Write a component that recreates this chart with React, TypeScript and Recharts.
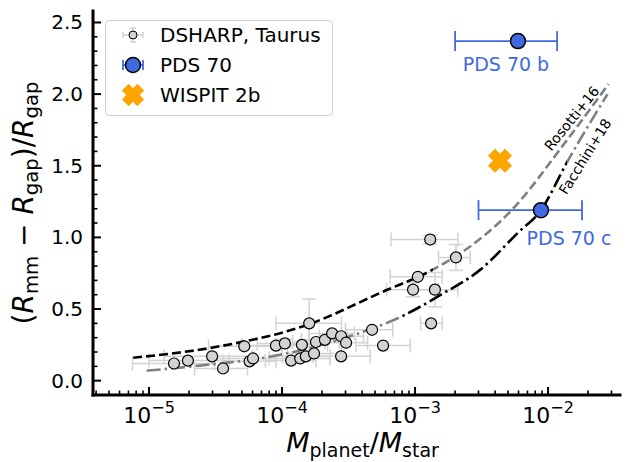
import {
  ComposedChart,
  Scatter,
  Line,
  XAxis,
  YAxis,
  ErrorBar,
  Legend,
  ReferenceDot,
} from 'recharts';

const FONT = '"DejaVu Sans", Verdana, sans-serif';
const GREY = '#808080';
const LIGHT = '#d3d3d3';
const BLUE = '#4169e1';
const ORANGE = '#ffa500';

// axis ranges and tick positions
const X_DOMAIN: [number, number] = [3.79e-6, 3.475e-2];
const Y_DOMAIN: [number, number] = [-0.1, 2.58];
const X_MAJOR = [1e-5, 1e-4, 1e-3, 1e-2];
const X_MINOR = [
  4e-6, 5e-6, 6e-6, 7e-6, 8e-6, 9e-6,
  2e-5, 3e-5, 4e-5, 5e-5, 6e-5, 7e-5, 8e-5, 9e-5,
  2e-4, 3e-4, 4e-4, 5e-4, 6e-4, 7e-4, 8e-4, 9e-4,
  2e-3, 3e-3, 4e-3, 5e-3, 6e-3, 7e-3, 8e-3, 9e-3,
  2e-2, 3e-2,
];
const Y_MAJOR = [0, 0.5, 1, 1.5, 2, 2.5];
const Y_MINOR = [
  0.1, 0.2, 0.3, 0.4, 0.6, 0.7, 0.8, 0.9, 1.1, 1.2, 1.3, 1.4,
  1.6, 1.7, 1.8, 1.9, 2.1, 2.2, 2.3, 2.4,
];

// DSHARP + Taurus gaps
const DSHARP_M = [
  1.54e-5, 1.96e-5, 2.98e-5, 3.6e-5, 5.2e-5, 5.7e-5, 6.05e-5, 9.0e-5, 1.05e-4,
  1.17e-4, 1.37e-4, 1.41e-4, 1.51e-4, 1.6e-4, 1.74e-4, 1.8e-4, 2.1e-4, 2.38e-4,
  2.78e-4, 2.78e-4, 3.03e-4, 4.75e-4, 5.75e-4, 9.66e-4, 1.05e-3, 1.3e-3, 1.32e-3,
  1.41e-3, 2.03e-3,
];
const DSHARP_W = [
  0.12, 0.14, 0.17, 0.085, 0.24, 0.135, 0.155, 0.245, 0.26,
  0.14, 0.155, 0.25, 0.17, 0.4, 0.19, 0.27, 0.285, 0.33,
  0.31, 0.17, 0.265, 0.355, 0.245, 0.635, 0.725, 0.985, 0.4,
  0.635, 0.86,
];
const DSHARP_M_LO = [
  7.5e-6, 1.0e-5, 1.3e-5, 2.2e-5, 2.8e-5, 3.6e-5, 3.0e-5, 5.0e-5, 6.5e-5,
  7.5e-5, 8.0e-5, 9.0e-5, 1.0e-4, 9.0e-5, 1.1e-4, 1.2e-4, 1.4e-4, 1.6e-4,
  1.9e-4, 1.7e-4, 2.1e-4, 3.0e-4, 3.6e-4, 6.1e-4, 6.5e-4, 6.6e-4, 1.1e-3,
  9.5e-4, 1.5e-3,
];
const DSHARP_M_HI = [
  3.1e-5, 4.0e-5, 6.0e-5, 5.5e-5, 1.0e-4, 9.0e-5, 1.2e-4, 1.6e-4, 1.7e-4,
  1.8e-4, 2.3e-4, 2.2e-4, 2.3e-4, 2.8e-4, 2.8e-4, 2.7e-4, 3.2e-4, 3.5e-4,
  4.1e-4, 4.6e-4, 4.4e-4, 6.8e-4, 9.2e-4, 1.5e-3, 1.6e-3, 2.1e-3, 1.6e-3,
  2.1e-3, 2.6e-3,
];
const DSHARP_W_ERR = [
  0, 0, 0, 0, 0, 0, 0, 0, 0.03,
  0, 0, 0, 0, 0.17, 0, 0, 0, 0,
  0.03, 0, 0, 0, 0, 0.05, 0, 0.03, 0,
  0.12, 0.09,
];

// PDS 70 b and c
const PDS_NAMES = ['PDS 70 b', 'PDS 70 c'];
const PDS_M = [5.94e-3, 8.85e-3];
const PDS_M_LO = [2.0e-3, 3.0e-3];
const PDS_M_HI = [1.17e-2, 1.8e-2];
const PDS_W = [2.37, 1.19];

// WISPIT 2b
const WISPIT_M = [4.35e-3];
const WISPIT_W = [1.535];

// Rosotti+16 relation, black over the DSHARP range
const ROSOTTI_M = [7.6e-6, 3.4e-5, 1.55e-4, 5.7e-4, 1.36e-3, 2.2e-3, 5.2e-3, 1.39e-2, 2.85e-2];
const ROSOTTI_W = [0.16, 0.24, 0.39, 0.62, 0.775, 0.89, 1.18, 1.68, 2.07];
const ROSOTTI_BLACK: [number, number] = [7.6e-6, 1.36e-3];

// Facchini+18 relation
const FACCHINI_M = [9.6e-6, 2.4e-5, 9.6e-5, 3.9e-4, 7.8e-4, 1.5e-3, 3.1e-3, 5.9e-3, 8.85e-3, 1.38e-2, 2.8e-2];
const FACCHINI_W = [0.07, 0.105, 0.18, 0.335, 0.445, 0.59, 0.775, 1.03, 1.19, 1.52, 2.0];
const FACCHINI_BLACK: [number, number] = [7.8e-4, 1.38e-2];

const dsharp = DSHARP_M.map((m, i) => ({
  m,
  w: DSHARP_W[i],
  xErr: [m - DSHARP_M_LO[i], DSHARP_M_HI[i] - m],
  yErr: DSHARP_W_ERR[i],
}));

const pds = PDS_M.map((m, i) => ({
  m,
  w: PDS_W[i],
  name: PDS_NAMES[i],
  xErr: [m - PDS_M_LO[i], PDS_M_HI[i] - m],
}));

const wispit = WISPIT_M.map((m, i) => ({ m, w: WISPIT_W[i] }));

const curve = (ms: number[], ws: number[]) => ms.map((m, i) => ({ m, w: ws[i] }));
const rosotti = curve(ROSOTTI_M, ROSOTTI_W);
const facchini = curve(FACCHINI_M, FACCHINI_W);

// where a mass falls along a curve's horizontal extent (log axis), 0..1
const frac = (ms: number[], v: number) => {
  const a = Math.log10(ms[0]);
  const b = Math.log10(ms[ms.length - 1]);
  return Math.min(1, Math.max(0, (Math.log10(v) - a) / (b - a)));
};

// hard colour switch: grey outside the black range, black inside it
function SplitGradient({ id, ms, range }: { id: string; ms: number[]; range: [number, number] }) {
  const f0 = frac(ms, range[0]);
  const f1 = frac(ms, range[1]);
  return (
    <linearGradient id={id} x1="0" y1="0" x2="1" y2="0">
      <stop offset={0} stopColor={GREY} />
      <stop offset={f0} stopColor={GREY} />
      <stop offset={f0} stopColor="#000" />
      <stop offset={f1} stopColor="#000" />
      <stop offset={f1} stopColor={GREY} />
      <stop offset={1} stopColor={GREY} />
    </linearGradient>
  );
}

const LABEL_OFFSET: Record<string, [number, number]> = {
  'PDS 70 b': [-12, 30],
  'PDS 70 c': [28, 35],
};

const isMajor = (list: number[], v: number) =>
  list.some((t) => Math.abs(v - t) <= Math.abs(t) * 1e-6 + 1e-9);

// tick marks point into the frame on all four sides
function BottomTick({ x, y, payload }: any) {
  const major = isMajor(X_MAJOR, payload.value);
  const exp = Math.round(Math.log10(payload.value));
  return (
    <g>
      <line x1={x} x2={x} y1={y} y2={y - (major ? 8 : 4.5)} stroke="#000" strokeWidth={major ? 2 : 1.6} />
      {major && (
        <text x={x} y={y + 28} textAnchor="middle" fontSize={22} fontFamily={FONT} fill="#000">
          10<tspan dy={-10} fontSize={16}>{`\u2212${-exp}`}</tspan>
        </text>
      )}
    </g>
  );
}

function TopTick({ x, y, payload }: any) {
  const major = isMajor(X_MAJOR, payload.value);
  return <line x1={x} x2={x} y1={y} y2={y + (major ? 8 : 4.5)} stroke="#000" strokeWidth={major ? 2 : 1.6} />;
}

function LeftTick({ x, y, payload }: any) {
  const major = isMajor(Y_MAJOR, payload.value);
  return (
    <g>
      <line x1={x} x2={x + (major ? 8 : 4.5)} y1={y} y2={y} stroke="#000" strokeWidth={major ? 2 : 1.6} />
      {major && (
        <text x={x - 10} y={y + 7} textAnchor="end" fontSize={20} fontFamily={FONT} fill="#000">
          {payload.value.toFixed(1)}
        </text>
      )}
    </g>
  );
}

function RightTick({ x, y, payload }: any) {
  const major = isMajor(Y_MAJOR, payload.value);
  return <line x1={x} x2={x - (major ? 8 : 4.5)} y1={y} y2={y} stroke="#000" strokeWidth={major ? 2 : 1.6} />;
}

function XTitle({ viewBox }: any) {
  const cx = viewBox.x + viewBox.width / 2 + 6;
  return (
    <text x={cx} y={452} textAnchor="middle" fontSize={27} fontFamily={FONT} fill="#000">
      <tspan fontStyle="italic">M</tspan>
      <tspan fontSize={19} dy={5}>planet</tspan>
      <tspan dy={-5}>/</tspan>
      <tspan fontStyle="italic">M</tspan>
      <tspan fontSize={19} dy={5}>star</tspan>
    </text>
  );
}

function YTitle({ viewBox }: any) {
  const cy = viewBox.y + viewBox.height / 2;
  return (
    <text
      transform={`translate(33 ${cy}) rotate(-90)`}
      textAnchor="middle"
      fontSize={28}
      fontFamily={FONT}
      fill="#000"
    >
      (<tspan fontStyle="italic">R</tspan>
      <tspan fontSize={19.6} dy={5}>mm</tspan>
      <tspan dy={-5}>{' \u2212 '}</tspan>
      <tspan fontStyle="italic">R</tspan>
      <tspan fontSize={19.6} dy={5}>gap</tspan>
      <tspan dy={-5}>)/</tspan>
      <tspan fontStyle="italic">R</tspan>
      <tspan fontSize={19.6} dy={5}>gap</tspan>
    </text>
  );
}

const xPath = (cx: number, cy: number, a: number, w: number) => {
  const pts = [
    [-w, -a], [w, -a], [w, -w], [a, -w], [a, w], [w, w],
    [w, a], [-w, a], [-w, w], [-a, w], [-a, -w], [-w, -w],
  ];
  const k = Math.SQRT1_2;
  return (
    'M' +
    pts.map(([px, py]) => `${cx + (px - py) * k},${cy + (px + py) * k}`).join('L') +
    'Z'
  );
};

function LegendBox() {
  return (
    <svg width={229} height={97} style={{ display: 'block' }}>
      <rect x={0.5} y={0.5} width={227} height={95} rx={4} fill="#fff" fillOpacity={0.8} stroke="#cccccc" />
      <g stroke={LIGHT} strokeWidth={1.5}>
        <line x1={18} x2={38} y1={15} y2={15} />
        <line x1={18} x2={18} y1={12} y2={18} />
        <line x1={38} x2={38} y1={12} y2={18} />
        <line x1={28} x2={28} y1={8} y2={22} />
        <line x1={25} x2={31} y1={8} y2={8} />
        <line x1={25} x2={31} y1={22} y2={22} />
      </g>
      <circle cx={28} cy={15} r={4} fill={LIGHT} stroke="#000" strokeWidth={1} />
      <g stroke={BLUE} strokeWidth={1.8}>
        <line x1={18} x2={38} y1={45} y2={45} />
        <line x1={18} x2={18} y1={40} y2={50} />
        <line x1={38} x2={38} y1={40} y2={50} />
      </g>
      <circle cx={28} cy={45} r={7.5} fill={BLUE} stroke="#000" strokeWidth={1.5} />
      <path d={xPath(28, 75, 11, 4.8)} fill={ORANGE} />
      <g fontFamily={FONT} fontSize={20} fill="#000">
        <text x={55} y={22}>DSHARP, Taurus</text>
        <text x={55} y={52}>PDS 70</text>
        <text x={55} y={82}>WISPIT 2b</text>
      </g>
    </svg>
  );
}

const curveProps = {
  dataKey: 'w',
  type: 'monotone' as const,
  strokeWidth: 2.6,
  dot: false,
  activeDot: false,
  legendType: 'none' as const,
  isAnimationActive: false,
};

export default function App() {
  const xTicks = [...X_MINOR, ...X_MAJOR].sort((a, b) => a - b);
  const yTicks = [...Y_MINOR, ...Y_MAJOR].sort((a, b) => a - b);
  const frame = { stroke: '#000', strokeWidth: 3, strokeLinecap: 'square' as const };

  return (
    <div style={{ position: 'absolute', left: 0, top: 0, background: '#fff' }}>
      <ComposedChart width={633} height={462} margin={{ top: 11, right: 13, bottom: 0, left: 0 }}>
        <defs>
          <SplitGradient id="rosottiStroke" ms={ROSOTTI_M} range={ROSOTTI_BLACK} />
          <SplitGradient id="facchiniStroke" ms={FACCHINI_M} range={FACCHINI_BLACK} />
        </defs>
        <XAxis
          dataKey="m"
          type="number"
          scale="log"
          domain={X_DOMAIN}
          allowDataOverflow
          ticks={xTicks}
          interval={0}
          tickSize={0}
          tickMargin={0}
          height={67}
          axisLine={frame}
          tickLine={false}
          tick={<BottomTick />}
          label={{ content: (p: any) => <XTitle {...p} /> }}
        />
        <XAxis
          xAxisId="top"
          dataKey="m"
          type="number"
          scale="log"
          orientation="top"
          domain={X_DOMAIN}
          allowDataOverflow
          ticks={xTicks}
          interval={0}
          tickSize={0}
          tickMargin={0}
          height={0}
          axisLine={frame}
          tickLine={false}
          tick={<TopTick />}
        />
        <YAxis
          dataKey="w"
          type="number"
          domain={Y_DOMAIN}
          allowDataOverflow
          ticks={yTicks}
          interval={0}
          tickSize={0}
          tickMargin={0}
          width={93}
          axisLine={frame}
          tickLine={false}
          tick={<LeftTick />}
          label={{ content: (p: any) => <YTitle {...p} /> }}
        />
        <YAxis
          yAxisId="right"
          orientation="right"
          dataKey="w"
          type="number"
          domain={Y_DOMAIN}
          allowDataOverflow
          ticks={yTicks}
          interval={0}
          tickSize={0}
          tickMargin={0}
          width={0}
          axisLine={frame}
          tickLine={false}
          tick={<RightTick />}
        />

        {/* error bars sit underneath the model curves */}
        <Scatter data={dsharp} dataKey="w" shape={() => <g />} isAnimationActive={false} legendType="none">
          <ErrorBar dataKey="xErr" direction="x" width={7} stroke={LIGHT} strokeWidth={1.5} />
          <ErrorBar dataKey="yErr" direction="y" width={7} stroke={LIGHT} strokeWidth={1.5} />
        </Scatter>

        <Line {...curveProps} data={facchini} stroke="url(#facchiniStroke)" strokeDasharray="14 4 2.5 4" />
        <Line {...curveProps} data={rosotti} stroke="url(#rosottiStroke)" strokeDasharray="9 4" />

        <Scatter
          data={dsharp}
          dataKey="w"
          isAnimationActive={false}
          legendType="none"
          shape={(p: any) => (
            <circle cx={p.cx} cy={p.cy} r={5.5} fill={LIGHT} stroke="#000" strokeWidth={1.2} />
          )}
        />

        <Scatter
          data={pds}
          dataKey="w"
          isAnimationActive={false}
          legendType="none"
          shape={(p: any) => {
            const name = p.payload?.name ?? '';
            const [dx, dy] = LABEL_OFFSET[name] ?? [0, 30];
            return (
              <g>
                <circle cx={p.cx} cy={p.cy} r={7.5} fill={BLUE} stroke="#000" strokeWidth={1.5} />
                <text x={p.cx + dx} y={p.cy + dy} textAnchor="middle" fontSize={19} fontFamily={FONT} fill={BLUE}>
                  {name}
                </text>
              </g>
            );
          }}
        >
          <ErrorBar dataKey="xErr" direction="x" width={10} stroke={BLUE} strokeWidth={1.8} />
        </Scatter>

        <Scatter
          data={wispit}
          dataKey="w"
          isAnimationActive={false}
          legendType="none"
          shape={(p: any) => <path d={xPath(p.cx, p.cy, 12, 5)} fill={ORANGE} />}
        />

        <ReferenceDot
          x={1.51e-2}
          y={1.83}
          ifOverflow="visible"
          shape={(p: any) => (
            <text
              transform={`translate(${p.cx} ${p.cy}) rotate(-51)`}
              textAnchor="middle"
              dy="0.35em"
              fontSize={14}
              fontFamily={FONT}
              fill="#000"
            >
              Rosotti+16
            </text>
          )}
        />
        <ReferenceDot
          x={1.9e-2}
          y={1.565}
          ifOverflow="visible"
          shape={(p: any) => (
            <text
              transform={`translate(${p.cx} ${p.cy}) rotate(-58)`}
              textAnchor="middle"
              dy="0.35em"
              fontSize={14}
              fontFamily={FONT}
              fill="#000"
            >
              Facchini+18
            </text>
          )}
        />

        <Legend
          layout="vertical"
          align="center"
          verticalAlign="middle"
          wrapperStyle={{ left: 105, top: 20, width: 229, height: 97 }}
          content={() => <LegendBox />}
        />
      </ComposedChart>
    </div>
  );
}
